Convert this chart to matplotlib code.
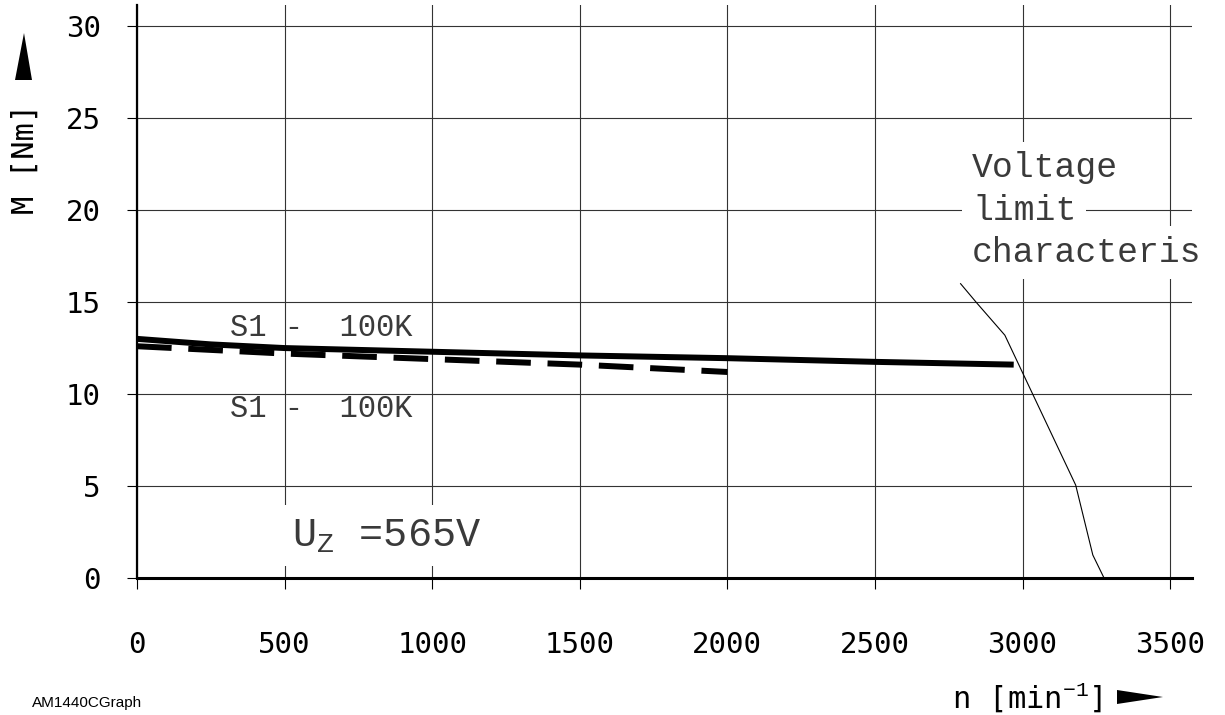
import matplotlib.pyplot as plt
from matplotlib.patches import Polygon

plt.rcParams['mathtext.fontset'] = 'custom'
plt.rcParams['mathtext.rm'] = 'Liberation Mono'
plt.rcParams['mathtext.it'] = 'Liberation Mono'

# S1 - 100K curves (speed in min^-1, torque in Nm)
n_solid = [0, 250, 500, 1000, 1500, 2000, 2500, 2970]
m_solid = [13.0, 12.7, 12.5, 12.3, 12.1, 11.95, 11.75, 11.6]
n_dashed = [0, 500, 1000, 1500, 2000]
m_dashed = [12.6, 12.2, 11.9, 11.6, 11.2]

# voltage limit characteristic
n_volt = [2790, 2845, 2940, 3180, 3238, 3276]
m_volt = [16.0, 14.95, 13.2, 5.05, 1.25, 0.0]

x_ticks = [0, 500, 1000, 1500, 2000, 2500, 3000, 3500]
y_ticks = [0, 5, 10, 15, 20, 25, 30]

W, H = 1225, 715
fig = plt.figure(figsize=(W / 100, H / 100), dpi=100)
ax = fig.add_axes([137 / W, 1 - 578 / H, (1192 - 137) / W, (578 - 5) / H])

mono = 'DejaVu Sans Mono'
thin = 'Liberation Mono'

ax.plot(n_solid, m_solid, color='black', lw=4.3, solid_capstyle='butt', zorder=4)
ax.plot(n_dashed, m_dashed, color='black', lw=4.3, dashes=(5.8, 2.8), zorder=4)
ax.plot(n_volt, m_volt, color='black', lw=0.8, zorder=4)

ax.set_xlim(0, 3574)
ax.set_ylim(0, 31.15)
ax.set_xticks(x_ticks)
ax.set_yticks(y_ticks)
ax.set_xticklabels([str(v) for v in x_ticks], family=mono, fontsize=21)
ax.set_yticklabels([str(v) for v in y_ticks], family=mono, fontsize=21)
ax.tick_params(axis='x', direction='out', length=8, width=0.8, pad=30)
ax.tick_params(axis='y', direction='out', length=7, width=0.8, pad=19)
ax.grid(True, color='#333333', lw=0.8, zorder=1)

for s in ['top', 'right']:
    ax.spines[s].set_visible(False)
ax.spines['left'].set_linewidth(1.6)
ax.spines['bottom'].set_linewidth(2.2)

# annotations
ax.text(315, 13.6, 'S1 -  100K', family=thin, fontsize=22, color='#3a3a3a',
        va='center', ha='left', zorder=3)
ax.text(315, 9.2, 'S1 -  100K', family=thin, fontsize=22, color='#3a3a3a',
        va='center', ha='left', zorder=3)
ax.text(525, 2.3, r'U$_\mathrm{Z}$ =565V', family=thin, fontsize=29, color='#3a3a3a',
        va='center', ha='left', zorder=3,
        bbox=dict(facecolor='white', edgecolor='none', pad=8))
volt_lines = ['Voltage', 'limit', 'characteris']
volt_y = [22.3, 20.0, 17.7]
for txt, yy in zip(volt_lines, volt_y):
    ax.text(2829, yy, txt, family=thin, fontsize=25, color='#3a3a3a',
            va='center', ha='left', zorder=3,
            bbox=dict(facecolor='white', edgecolor='none', pad=7))

# axis labels with arrows
fig.text(25 / W, 1 - 159 / H, 'M [Nm]', family=mono, fontsize=22, rotation=90,
         ha='center', va='center')
fig.patches.append(Polygon([(15 / W, 1 - 80 / H), (32 / W, 1 - 80 / H), (24 / W, 1 - 33 / H)],
                           closed=True, facecolor='black', edgecolor='none',
                           transform=fig.transFigure, figure=fig))
fig.text(1102 / W, 1 - 698 / H, r'n [min$^{-1}$]', family=mono, fontsize=22,
         ha='right', va='center')
fig.patches.append(Polygon([(1117 / W, 1 - 690 / H), (1117 / W, 1 - 704 / H), (1163 / W, 1 - 697 / H)],
                           closed=True, facecolor='black', edgecolor='none',
                           transform=fig.transFigure, figure=fig))
fig.text(32 / W, 1 - 703 / H, 'AM1440CGraph', family='Liberation Sans', fontsize=11,
         ha='left', va='center')

fig.savefig('out.png', dpi=100)
